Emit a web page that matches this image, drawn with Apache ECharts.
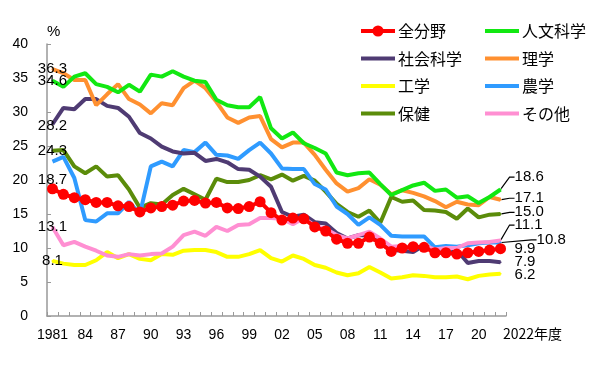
<!DOCTYPE html>
<html><head><meta charset="utf-8">
<script src="https://cdn.jsdelivr.net/npm/echarts@6/dist/echarts.min.js"></script>
<style>html,body{margin:0;padding:0;background:#fff}#c{width:600px;height:368px}</style>
</head><body><div id="c"></div>
<script>
const years = ['1981','1982','1983','1984','1985','1986','1987','1988','1989','1990',
  '1991','1992','1993','1994','1995','1996','1997','1998','1999','2000',
  '2001','2002','2003','2004','2005','2006','2007','2008','2009','2010',
  '2011','2012','2013','2014','2015','2016','2017','2018','2019','2020','2021','2022'];

const allFields   = [18.7,17.9,17.4,17.1,16.7,16.7,16.2,16.1,15.3,15.9, 16.1,16.3,16.9,17.0,16.6,16.7,15.9,15.8,16.1,16.8, 15.2,14.1,14.4,14.3,13.1,12.5,11.3,10.7,10.7,11.6, 10.7,9.5,10.0,10.2,10.1,9.3,9.3,9.1,9.3,9.5, 9.7,9.9];
const humanities  = [34.6,33.7,35.2,35.7,34.1,33.7,32.9,34.0,33.0,35.5, 35.2,36.0,35.2,34.6,34.4,31.8,31.0,30.7,30.7,32.2, 27.6,26.1,27.0,25.4,24.7,23.9,21.1,20.7,21.0,21.1, 19.4,17.8,18.5,19.2,19.6,18.4,18.6,17.4,17.6,16.6, 17.5,18.6];
const social      = [28.2,30.6,30.4,31.9,31.9,30.9,30.6,29.3,26.9,26.1, 24.9,24.2,23.9,24.0,22.8,23.1,22.6,21.6,21.5,20.5, 19.0,15.3,14.6,14.9,13.8,13.6,12.2,11.4,11.9,11.8, 10.7,9.7,9.6,9.4,10.4,9.7,9.0,9.7,7.8,8.1, 8.1,7.9];
const science     = [36.3,35.7,34.7,34.7,31.0,32.6,34.1,31.9,31.1,29.8, 31.3,31.0,33.5,34.6,33.5,31.5,29.2,28.4,29.2,29.4, 26.0,24.8,25.5,25.5,23.7,21.5,19.5,18.3,18.8,20.1, 19.3,17.9,18.5,18.1,17.6,16.9,16.0,16.8,16.4,16.3, 17.5,17.1];
const engineering = [8.1,7.7,7.5,7.5,8.2,9.4,8.5,9.1,8.4,8.2, 9.1,9.0,9.6,9.7,9.7,9.4,8.7,8.7,9.1,9.7, 8.5,8.0,8.9,8.4,7.5,7.1,6.4,6.0,6.3,7.2, 6.4,5.5,5.7,6.0,5.9,5.7,5.7,5.8,5.4,5.9, 6.1,6.2];
const agriculture = [22.7,23.4,20.3,14.1,13.9,15.1,15.1,16.8,15.0,22.0, 22.7,22.0,24.4,24.1,25.5,23.7,23.6,23.1,24.4,25.5, 23.9,21.7,21.6,21.6,19.4,18.6,16.1,15.0,13.4,14.5, 13.4,11.8,11.7,11.7,11.7,10.1,10.3,10.2,10.4,10.7, 10.8,10.8];
const health      = [24.3,24.4,22.0,21.0,22.0,20.5,20.7,18.6,15.9,16.6, 16.4,17.8,18.7,17.9,17.1,20.2,19.7,19.7,20.0,20.7, 20.1,20.8,19.9,20.6,19.9,18.3,16.5,15.3,14.6,15.5, 13.7,17.5,16.8,17.0,15.6,15.5,15.3,14.3,15.8,14.5, 14.9,15.0];
const others      = [13.1,10.4,10.9,10.2,9.6,8.9,8.7,9.1,8.9,9.1, 9.2,10.2,11.9,12.4,11.8,13.1,12.5,13.4,13.5,14.4, 14.4,14.3,13.5,14.4,13.3,12.8,11.9,11.4,11.9,12.4, 11.4,10.2,10.3,10.0,10.3,9.8,10.0,10.0,10.7,10.8, 10.9,11.1];

const legendCol1 = ['全分野','社会科学','工学','保健'];
const legendCol2 = ['人文科学','理学','農学','その他'];

const NUM_FONT = '"Liberation Sans", Arial, sans-serif';
const JP_FONT = '"Noto Sans CJK JP", sans-serif';

// drawing order (bottom -> top)
const seriesCfg = [
  {name:'工学',   vals:engineering, color:'#ffff00', start:{dy:0},  end:{dist:13, dy:1,    line:false}},
  {name:'保健',   vals:health,      color:'#5b8c0a', start:{dy:0},  end:{dist:13, dy:-1.7, line:true}},
  {name:'農学',   vals:agriculture, color:'#2f9bff', start:null,    end:{dist:35, dy:-2.6, line:true}},
  {name:'社会科学', vals:social,    color:'#4f3b73', start:{dy:2},  end:{dist:13, dy:0,    line:false}},
  {name:'その他', vals:others,      color:'#ff8fd2', start:{dy:0},  end:{dist:13, dy:-15.5,line:true}},
  {name:'理学',   vals:science,     color:'#ff9030', start:{dy:0},  end:{dist:13, dy:-1.5, line:true}},
  {name:'人文科学', vals:humanities, color:'#12e812', start:{dy:0}, end:{dist:13, dy:-12.5,line:true}},
  {name:'全分野', vals:allFields,   color:'#ff0000', start:{dy:-9}, end:{dist:8.5, dy:0,   line:false}, dot:true}
];

const series = seriesCfg.map(cfg => {
  const n = cfg.vals.length;
  const data = cfg.vals.map((v, i) => {
    const item = {value: v};
    if (i === 0 && cfg.start) {
      if (!cfg.dot) { item.symbol = 'circle'; item.symbolSize = 2; }
      item.label = {show: true, position: 'inside'};
    }
    if (i === n - 1) {
      if (!cfg.dot) { item.symbol = 'circle'; item.symbolSize = 2; }
      item.label = {show: true, position: 'right', distance: cfg.end.dist};
      item.labelLine = {show: cfg.end.line, length2: 5, lineStyle: {color: '#000', width: 1.2}};
    }
    return item;
  });
  return {
    name: cfg.name,
    type: 'line',
    data: data,
    color: cfg.color,
    symbol: cfg.dot ? 'circle' : 'none',
    symbolSize: cfg.dot ? 11 : 2,
    showSymbol: true,
    showAllSymbol: true,
    lineStyle: {color: cfg.color, width: 4},
    itemStyle: {color: cfg.color},
    label: {
      show: false,
      color: '#000',
      fontSize: 15,
      fontFamily: NUM_FONT,
      formatter: p => Number(p.value).toFixed(1)
    },
    labelLayout: p => {
      if (p.dataIndex === n - 1) return {dx: 0.01, dy: cfg.end.dy + 0.01};
      if (p.dataIndex === 0 && cfg.start) return {dx: 0, dy: cfg.start.dy};
      return {};
    },
    emphasis: {disabled: true},
    animation: false
  };
});

const dotSeries = seriesCfg.filter(c => c.dot).map(c => c.name);
const legendItems = names => names.map(nm => dotSeries.includes(nm) ? {name: nm} : {name: nm, itemStyle: {opacity: 0}});

const legendBase = {
  orient: 'vertical',
  top: 18,
  itemWidth: 34,
  itemHeight: 14,
  itemGap: 11.5,
  textStyle: {fontSize: 16, color: '#000', fontFamily: JP_FONT, padding: [0,0,0,-2]},
  lineStyle: {width: 4},
  selectedMode: false
};

const option = {
  backgroundColor: '#fff',
  animation: false,
  grid: {left: 47, right: 94, top: 44, bottom: 52},
  legend: [
    Object.assign({}, legendBase, {left: 354, data: legendItems(legendCol1)}),
    Object.assign({}, legendBase, {left: 478, data: legendItems(legendCol2)})
  ],
  xAxis: {
    type: 'category',
    data: years,
    boundaryGap: true,
    name: '2022年度',
    nameLocation: 'end',
    nameGap: 0,
    nameTextStyle: {fontSize: 14, color: '#000', fontFamily: JP_FONT, align: 'left', verticalAlign: 'top', padding: [11, 0, 0, -3]},
    axisLine: {lineStyle: {color: '#999', width: 1.5}},
    axisTick: {show: true, inside: true, length: 4, interval: 0, lineStyle: {color: '#999'}},
    axisLabel: {
      interval: 2,
      margin: 12,
      fontSize: 14,
      color: '#000',
      fontFamily: NUM_FONT,
      formatter: (v, i) => (i === 0 ? v : (i === years.length - 1 ? '' : v.slice(2)))
    },
    splitLine: {show: false}
  },
  yAxis: {
    type: 'value',
    min: 0, max: 40, interval: 5,
    name: '%',
    nameLocation: 'end',
    nameGap: 5,
    nameTextStyle: {fontSize: 15, color: '#000', fontFamily: NUM_FONT, align: 'left'},
    axisLine: {show: true, lineStyle: {color: '#999', width: 1.5}},
    axisTick: {show: true, inside: true, length: 4, lineStyle: {color: '#999'}},
    axisLabel: {margin: 19, fontSize: 14, color: '#000', fontFamily: NUM_FONT},
    splitLine: {show: false}
  },
  series: series
};

const chart = echarts.init(document.getElementById('c'), null, {renderer: 'canvas'});
chart.setOption(option);
</script>
</body></html>
